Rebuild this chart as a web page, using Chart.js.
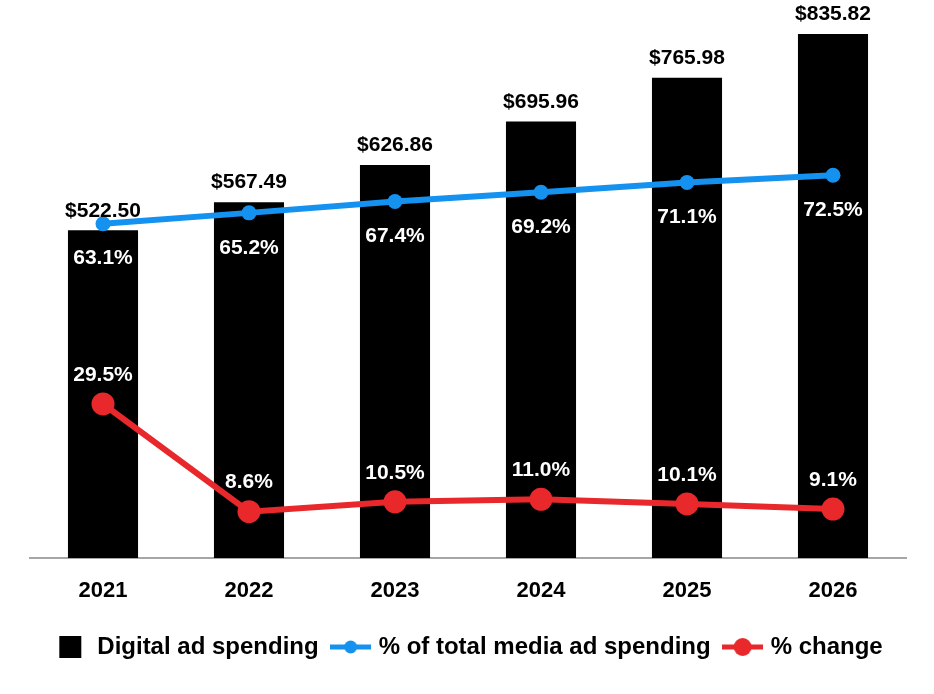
<!DOCTYPE html>
<html>
<head>
<meta charset="utf-8">
<script src="https://cdn.jsdelivr.net/npm/chart.js@4"></script>
<style>
  html, body { margin: 0; padding: 0; background: #fff; }
  #wrap { width: 934px; height: 694px; }
</style>
</head>
<body>
<div id="wrap"><canvas id="chart" width="934" height="694"></canvas></div>
<script>
const years = ['2021', '2022', '2023', '2024', '2025', '2026'];
const spending = [522.50, 567.49, 626.86, 695.96, 765.98, 835.82];
const shareOfTotal = [63.1, 65.2, 67.4, 69.2, 71.1, 72.5];
const pctChange = [29.5, 8.6, 10.5, 11.0, 10.1, 9.1];

const BLUE = '#1592f0';
const RED = '#e8282b';
const FONT = "'Liberation Sans', Arial, sans-serif";

// little pictures for the legend markers
function legendLine(color, radius, width) {
    const c = document.createElement('canvas');
    c.width = 41;
    c.height = 22;
    const g = c.getContext('2d');
    g.strokeStyle = color;
    g.lineWidth = width;
    g.beginPath();
    g.moveTo(0, 11);
    g.lineTo(41, 11);
    g.stroke();
    g.fillStyle = color;
    g.beginPath();
    g.arc(20.5, 11, radius, 0, Math.PI * 2);
    g.fill();
    return c;
}

function legendSquare() {
    const c = document.createElement('canvas');
    c.width = 44;
    c.height = 24;
    const g = c.getContext('2d');
    g.fillStyle = '#000';
    g.fillRect(12, 1, 22, 22);
    return c;
}

const valueLabels = {
    id: 'valueLabels',
    afterDatasetsDraw(chart) {
        const ctx = chart.ctx;
        ctx.save();
        ctx.textAlign = 'center';

        const bars = chart.getDatasetMeta(0);
        ctx.font = 'bold 21px ' + FONT;
        ctx.fillStyle = '#000';
        ctx.textBaseline = 'bottom';
        bars.data.forEach((el, i) => {
            ctx.fillText('$' + spending[i].toFixed(2), el.x, el.y - 9);
        });

        ctx.fillStyle = '#fff';
        ctx.textBaseline = 'middle';
        chart.getDatasetMeta(1).data.forEach((el, i) => {
            ctx.fillText(shareOfTotal[i].toFixed(1) + '%', el.x, el.y + 35);
        });
        chart.getDatasetMeta(2).data.forEach((el, i) => {
            ctx.fillText(pctChange[i].toFixed(1) + '%', el.x, el.y - 29);
        });
        ctx.restore();
    }
};

const ctx = document.getElementById('chart').getContext('2d');
new Chart(ctx, {
    data: {
        labels: years,
        datasets: [
            {
                type: 'bar',
                label: 'Digital ad spending',
                data: spending,
                backgroundColor: '#000',
                barPercentage: 0.48,
                categoryPercentage: 1,
                yAxisID: 'y',
                order: 2
            },
            {
                type: 'line',
                label: '% of total media ad spending',
                data: shareOfTotal,
                borderColor: BLUE,
                backgroundColor: BLUE,
                borderWidth: 6,
                pointRadius: 7.5,
                pointHoverRadius: 7.5,
                pointBorderWidth: 0,
                tension: 0,
                yAxisID: 'yShare',
                order: 1
            },
            {
                type: 'line',
                label: '% change',
                data: pctChange,
                borderColor: RED,
                backgroundColor: RED,
                borderWidth: 6,
                pointRadius: 11.5,
                pointHoverRadius: 11.5,
                pointBorderWidth: 0,
                tension: 0,
                yAxisID: 'yChange',
                order: 0
            }
        ]
    },
    options: {
        responsive: false,
        animation: false,
        layout: {
            padding: { top: 30, left: 30, right: 28, bottom: 25 }
        },
        scales: {
            x: {
                grid: { display: false, drawTicks: false },
                border: { display: true, color: '#a6a6a6', width: 2 },
                ticks: {
                    padding: 20,
                    color: '#000',
                    font: { family: FONT, size: 22, weight: 'bold' }
                },
                afterFit(scale) {
                    scale.height = 61;
                }
            },
            y: { display: false, min: 0, max: 842 },
            yShare: { display: false, min: -1.8, max: 100.7 },
            yChange: { display: false, min: -0.4, max: 102.1 }
        },
        plugins: {
            tooltip: { enabled: false },
            legend: {
                position: 'bottom',
                labels: {
                    color: '#000',
                    font: { family: FONT, size: 24, weight: 'bold' },
                    usePointStyle: true,
                    pointStyleWidth: 32,
                    boxHeight: 24,
                    padding: 16,
                    generateLabels() {
                        return [
                            { text: 'Digital ad spending', pointStyle: legendSquare(), datasetIndex: 0, lineWidth: 0, fillStyle: '#000', strokeStyle: '#000', hidden: false },
                            { text: '% of total media ad spending', pointStyle: legendLine(BLUE, 6.5, 5), datasetIndex: 1, lineWidth: 0, fillStyle: BLUE, strokeStyle: BLUE, hidden: false },
                            { text: '% change', pointStyle: legendLine(RED, 9, 5), datasetIndex: 2, lineWidth: 0, fillStyle: RED, strokeStyle: RED, hidden: false }
                        ];
                    }
                }
            }
        }
    },
    plugins: [valueLabels]
});
</script>
</body>
</html>
